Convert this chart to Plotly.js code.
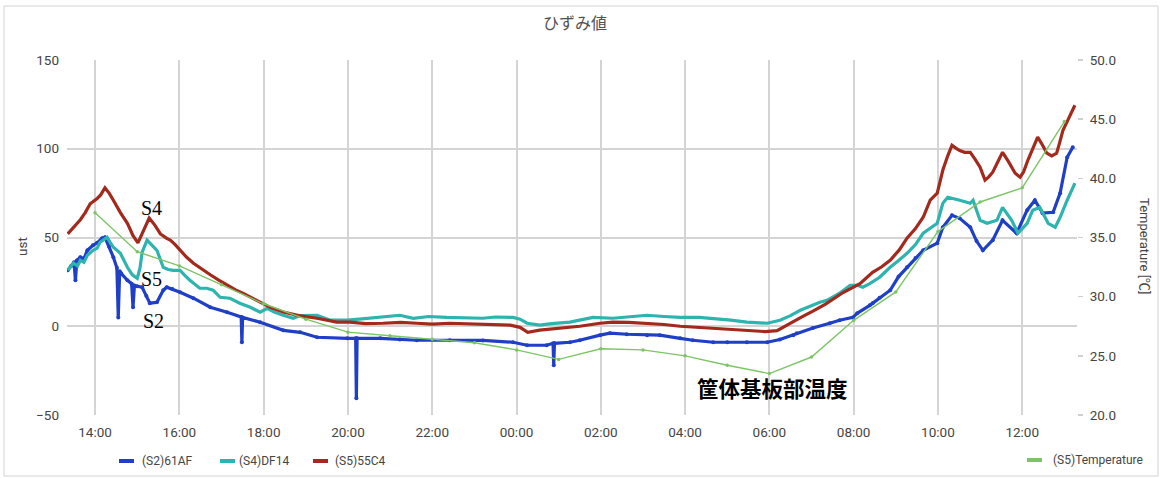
<!DOCTYPE html>
<html>
<head>
<meta charset="utf-8">
<script src="https://cdn.plot.ly/plotly-3.0.1.min.js"></script>
<style>
html,body{margin:0;padding:0;background:#fff;}
#chart{width:1160px;height:478px;}
</style>
</head>
<body>
<div id="chart"></div>
<script>
// ---- data (time of day; times before 13:20 belong to the next day) ----
const s5Times = ['13:21','13:30','13:39','13:46','13:53','14:03','14:08','14:14','14:20','14:26','14:36','14:46','14:54','15:01','15:08','15:17','15:25','15:33','15:42','15:47','15:54','16:01','16:10','16:20','16:32','16:44','16:56','17:08','17:20','17:31','17:43','17:55','18:10','18:28','18:50','19:16','19:44','20:03','20:25','20:50','21:15','21:38','22:00','22:25','22:50','23:12','23:35','23:51','00:05','00:16','00:33','00:50','01:06','01:30','01:59','02:17','02:40','03:06','03:30','03:53','04:15','04:40','05:05','05:28','05:54','06:11','06:20','06:29','06:45','07:02','07:20','07:45','08:09','08:27','08:40','08:52','09:05','09:16','09:28','09:39','09:49','09:59','10:07','10:14','10:20','10:25','10:31','10:38','10:46','10:53','11:00','11:07','11:12','11:18','11:25','11:32','11:40','11:50','11:57','12:02','12:08','12:15','12:22','12:29','12:35','12:42','12:49','12:53','12:58','13:06','13:15'];
const s5Values = [52,56,60,64,69,72,74,78,75,71,64,58,51,47,53,61,57,52,49.5,48.5,46,43,39,35.5,32,29,26,23,20.5,18.5,16,13.5,10.5,8,6,4.5,2.3,2.3,1.5,1.7,2.2,1.7,1.2,1.7,1.5,1.1,0.8,0.6,-0.6,-3.4,-2.2,-1.6,-1.1,0,1.7,2.3,2.2,1.7,1,0,-0.5,-1.1,-1.8,-2.3,-3,-2.5,-0.5,1.7,5,8.5,12.5,19,24,30.4,33.5,37.2,43,49.6,55,61.4,71,75,88,96,102,100.5,99,98,98,94,89.6,82.3,84,86.8,92,98,93,86.2,84,87,93.5,100,106.5,102,97.5,96,97.5,103,110.4,117,124.5];

const s4Times = ['13:21','13:29','13:35','13:39','13:44','13:49','13:57','14:03','14:07','14:13','14:17','14:21','14:26','14:36','14:46','14:53','15:00','15:04','15:07','15:14','15:20','15:28','15:37','15:44','15:51','16:01','16:08','16:15','16:29','16:39','16:48','16:58','17:12','17:26','17:41','17:55','18:05','18:15','18:28','18:42','18:52','19:16','19:34','19:59','20:20','20:46','21:14','21:33','21:55','22:21','22:45','23:12','23:30','23:55','00:05','00:15','00:33','00:50','01:16','01:30','01:49','02:17','02:40','03:06','03:30','03:53','04:20','04:40','05:05','05:28','05:57','06:15','06:30','06:44','07:12','07:22','07:40','07:55','08:05','08:13','08:23','08:37','08:52','09:04','09:16','09:28','09:39','09:59','10:07','10:14','10:22','10:31','10:46','10:50','11:00','11:10','11:24','11:32','11:45','11:54','12:07','12:15','12:25','12:37','12:47','12:54','13:04','13:15'];
const s4Values = [31.5,35.5,34,37.2,36,40,42.8,44,47.3,49,50.1,47.5,44.5,41.1,33.2,29,27,33,41.7,48.5,46,42.8,33.2,32,31.5,31.5,28.5,25.9,21.4,21.4,20.3,16.3,15.8,13,10.7,7.9,10.1,8,6.2,4.5,6,6.2,3.5,3.4,4.2,5,6.2,4.5,5.5,5,4.8,4.5,5.2,5,4,1.7,0.6,1.5,2.3,3.4,5,4.5,5.5,6.2,5.5,5,5,4.5,3.5,2.3,1.7,3.4,6,9,13.5,14.6,18.6,23.1,23.1,22,24,27.6,33.2,37,41.1,46,52.4,58,69.3,72.7,72,71,69.3,71,59.7,58,59.7,67,59.7,52.4,58,65.4,67,58,55.8,61.4,71,80.6];

const s2Times = ['13:21','13:26','13:30','13:32','13:34','13:39','13:44','13:49','13:57','14:03','14:10','14:14','14:20','14:26','14:31','14:33','14:35','14:37','14:46','14:52','14:54','14:56','15:00','15:07','15:13','15:18','15:28','15:37','15:42','15:50','16:01','16:20','16:44','17:08','17:28','17:29','17:30','17:55','18:28','18:52','19:16','19:59','20:11','20:12','20:13','20:46','21:14','21:38','22:25','23:12','23:55','00:15','00:43','00:52','00:53','00:54','01:16','01:30','01:59','02:13','02:37','03:06','03:24','03:53','04:11','04:40','05:00','05:28','05:57','06:15','06:34','06:39','07:02','07:26','07:40','07:59','08:05','08:23','08:27','08:37','08:52','09:04','09:16','09:28','09:39','09:59','10:07','10:20','10:31','10:46','10:55','11:04','11:18','11:32','11:52','12:07','12:18','12:29','12:44','12:54','13:04','13:12'];
const s2Values = [31.5,34,36,25.9,37,38.9,38,42.8,45.6,47,49.6,50.1,45,38.9,33,5,31,29.8,25.9,24,10.7,23,22.5,22,17,13,13.5,20.3,22,21,19.2,15.8,10.7,7.9,5.2,-9,5,2.3,-2.3,-3.4,-6.2,-6.8,-6.8,-40.6,-6.8,-6.8,-7.5,-7.9,-7.9,-8,-9,-10.7,-10.7,-9.6,-22,-9.6,-9,-7.9,-5,-3.9,-4.5,-5,-5,-6.8,-7.9,-9,-9,-9,-9,-7.5,-5,-3.9,-1,1.7,3.4,5,7.3,11.8,13,16,20.3,28,33.2,38.5,42.8,46.8,55.8,62.5,60.8,55.8,48,42.8,48.5,59.7,52.4,65.4,71,63.7,64.2,75,95.2,100.8];

const tempTimes = ['14:00','15:00','16:00','17:00','18:00','19:00','20:00','21:00','22:00','23:00','00:00','01:00','02:00','03:00','04:00','05:00','06:00','07:00','08:00','09:00','10:00','11:00','12:00','13:00'];
const tempValues = [37.1,33.8,32.6,31.0,29.4,28.1,27.0,26.7,26.4,26.1,25.5,24.7,25.6,25.5,25.0,24.2,23.5,24.9,28.0,30.4,35.5,38.0,39.2,44.8];

const seriesNames = ['(S2)61AF','(S4)DF14','(S5)55C4','(S5)Temperature'];
const seriesColors = ['#1e3fc6','#2db4ae','#a3291d','#7cc566'];
const strainTicks = [-50,0,50,100,150];
const tempTicks = [20,25,30,35,40,45,50];

// ---- helpers ----
function toDT(t){ return (t >= '13:20' ? '2023-05-10 ' : '2023-05-11 ') + t; }

const W = 1160, H = 478, ML = 67, MR = 83, MT = 60, MB = 63;
const PW = W - ML - MR, PH = H - MT - MB;
function px(x){ return (x - ML) / PW; }
function py(y){ return (H - MB - y) / PH; }

const traces = [
  {x: s2Times.map(toDT), y: s2Values, name: seriesNames[0], type: 'scatter', mode: 'lines+markers',
   line: {color: seriesColors[0], width: 3.2}, marker: {color: seriesColors[0], size: 4}, showlegend: false},
  {x: s4Times.map(toDT), y: s4Values, name: seriesNames[1], type: 'scatter', mode: 'lines',
   line: {color: seriesColors[1], width: 3.2}, showlegend: false},
  {x: s5Times.map(toDT), y: s5Values, name: seriesNames[2], type: 'scatter', mode: 'lines',
   line: {color: seriesColors[2], width: 3.2}, showlegend: false},
  {x: tempTimes.map(toDT), y: tempValues, name: seriesNames[3], type: 'scatter', mode: 'lines+markers', yaxis: 'y2',
   line: {color: seriesColors[3], width: 1.4}, marker: {color: seriesColors[3], size: 3.5}, showlegend: false}
];

const tickFont = {family: 'Roboto, sans-serif', size: 13.5, color: '#454545'};

// custom legend (short thick swatches + labels)
const legendItems = [
  {sx: 119, tx: 140, y: 461, i: 0},
  {sx: 220, tx: 237, y: 461, i: 1},
  {sx: 313, tx: 333, y: 461, i: 2},
  {sx: 1027, tx: 1051, y: 460, i: 3}
];
const shapes = [
  {type: 'rect', xref: 'paper', yref: 'paper', x0: px(4), x1: px(1158), y0: py(476), y1: py(6),
   line: {color: '#e2e2e2', width: 1.5}, fillcolor: 'rgba(0,0,0,0)', layer: 'below'}
];
const annotations = [
  {xref: 'paper', yref: 'paper', x: px(22), y: py(247), text: 'ust', showarrow: false, textangle: -90,
   font: {family: 'Roboto, sans-serif', size: 13.5, color: '#454545'}, xanchor: 'center', yanchor: 'middle'},
  {xref: 'paper', yref: 'paper', x: px(1145), y: py(246), text: 'Temperature [℃]', showarrow: false, textangle: 90,
   font: {family: 'Roboto, "Noto Sans CJK JP", sans-serif', size: 13, color: '#454545'}, xanchor: 'center', yanchor: 'middle'},
  {xref: 'x', yref: 'y', x: toDT('15:20'), y: 66.8, text: 'S4', showarrow: false,
   font: {family: '"Liberation Serif", "DejaVu Serif", serif', size: 20, color: '#000'}},
  {xref: 'x', yref: 'y', x: toDT('15:21'), y: 26.8, text: 'S5', showarrow: false,
   font: {family: '"Liberation Serif", "DejaVu Serif", serif', size: 20, color: '#000'}},
  {xref: 'x', yref: 'y', x: toDT('15:23'), y: 2.8, text: 'S2', showarrow: false,
   font: {family: '"Liberation Serif", "DejaVu Serif", serif', size: 20, color: '#000'}},
  {xref: 'x', yref: 'y', x: toDT('06:04'), y: -34.6, text: '筐体基板部温度', showarrow: false,
   font: {family: '"Noto Sans CJK JP", sans-serif', size: 21.5, color: '#000', weight: 'bold'}}
];
legendItems.forEach(function(it){
  shapes.push({type: 'line', xref: 'paper', yref: 'paper', x0: px(it.sx), x1: px(it.sx + 15), y0: py(it.y), y1: py(it.y),
    line: {color: seriesColors[it.i], width: 4}});
  annotations.push({xref: 'paper', yref: 'paper', x: px(it.tx), y: py(it.y), text: seriesNames[it.i], showarrow: false,
    xanchor: 'left', yanchor: 'middle', font: {family: 'Roboto, sans-serif', size: 12, color: '#454545'}});
});

const layout = {
  width: W, height: H,
  margin: {l: ML, r: MR, t: MT, b: MB, pad: 0},
  paper_bgcolor: '#fff', plot_bgcolor: '#fff',
  showlegend: false,
  title: {text: 'ひずみ値', x: 0.503, xref: 'paper', y: 1 - 23.5 / H, yanchor: 'middle',
          font: {family: '"Noto Sans CJK JP", sans-serif', size: 16, color: '#505050'}},
  xaxis: {type: 'date', range: [toDT('13:20'), toDT('13:18')],
          tick0: '2023-05-10 00:00', dtick: 7200000, tickformat: '%H:%M',
          showgrid: true, gridcolor: '#d4d4d4', gridwidth: 2, zeroline: false, showline: false,
          ticks: '', ticklabelstandoff: 7, tickfont: tickFont, fixedrange: true},
  yaxis: {range: [-50, 150], tickvals: strainTicks, showgrid: true, gridcolor: '#d4d4d4', gridwidth: 2,
          zeroline: false, showline: false, ticks: '', ticklabelstandoff: 7, tickfont: tickFont},
  yaxis2: {range: [20, 50], tickvals: tempTicks, overlaying: 'y', side: 'right', showgrid: false, zeroline: false,
           showline: false, ticks: 'outside', ticklen: 5, tickcolor: '#cfcfcf', tickwidth: 1.5,
           tickformat: '.1f', ticksuffix: ' °C', ticklabelstandoff: 4, tickfont: tickFont},
  shapes: shapes,
  annotations: annotations
};

Plotly.newPlot('chart', traces, layout, {displayModeBar: false, staticPlot: true});
</script>
</body>
</html>
